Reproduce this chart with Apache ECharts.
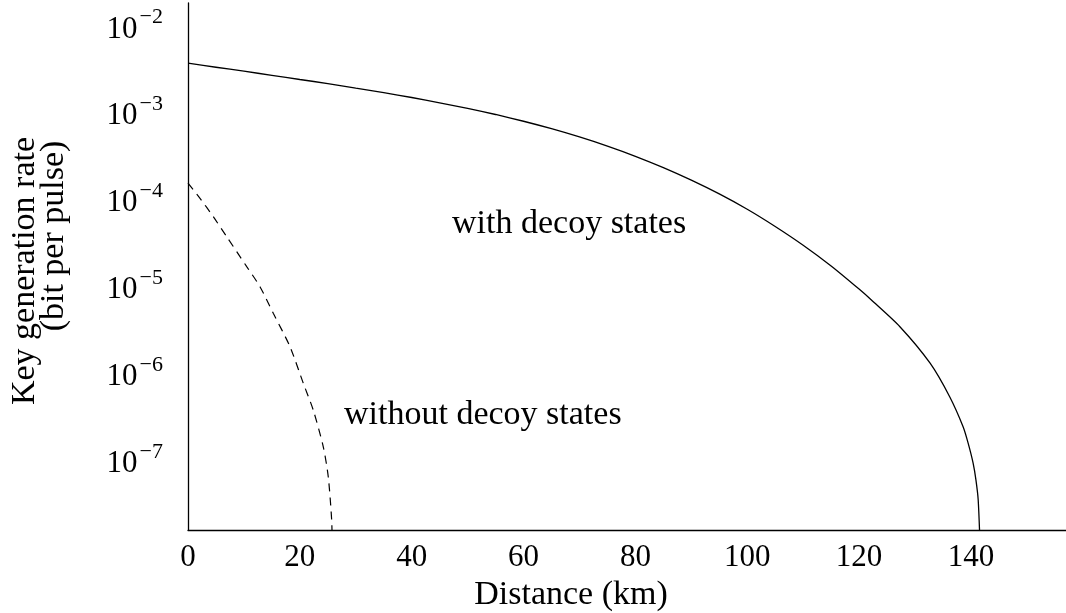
<!DOCTYPE html>
<html>
<head>
<meta charset="utf-8">
<script src="https://cdn.jsdelivr.net/npm/echarts@6/dist/echarts.min.js"></script>
<style>
  html, body { margin: 0; padding: 0; background: #fff; }
  #chart { width: 1066px; height: 613px; }
</style>
</head>
<body>
<div id="chart"></div>
<script>
// ---- data ----
const distWithDecoy = [0, 5, 10, 15, 20, 25, 30, 35, 40, 45, 50, 55, 60, 65, 70, 75, 80, 85, 90, 95, 100, 105, 110, 115, 120, 122.2, 127.3, 132.7, 136.2, 138.6, 139.5, 140.4, 140.9, 141.3, 141.65];
const rateWithDecoy = [3.77e-3, 3.39e-3, 3.05e-3, 2.74e-3, 2.45e-3, 2.20e-3, 1.95e-3, 1.73e-3, 1.52e-3, 1.32e-3, 1.14e-3, 9.69e-4, 8.10e-4, 6.65e-4, 5.34e-4, 4.19e-4, 3.20e-4, 2.37e-4, 1.70e-4, 1.18e-4, 7.86e-5, 4.98e-5, 3.03e-5, 1.75e-5, 9.48e-6, 7.10e-6, 3.50e-6, 1.33e-6, 5.47e-7, 2.47e-7, 1.60e-7, 9.36e-8, 6.0e-8, 3.54e-8, 1.0e-8];
const distWithoutDecoy = [0, 2.15, 4.52, 6.92, 10.5, 12.87, 15.25, 18.24, 20.62, 22.4, 24.19, 25.08, 25.69, 25.8];
const rateWithoutDecoy = [1.57e-4, 1.05e-4, 6.46e-5, 3.80e-5, 1.72e-5, 1.01e-5, 4.99e-6, 2.06e-6, 7.80e-7, 3.84e-7, 1.45e-7, 6.56e-8, 2.08e-8, 1.0e-8];
const xTickValues = [0, 20, 40, 60, 80, 100, 120, 140];
const yTickExponents = [-7, -6, -5, -4, -3, -2];
const labelWith = 'with decoy states';
const labelWithout = 'without decoy states';
const xTitle = 'Distance (km)';
const yTitle1 = 'Key generation rate';
const yTitle2 = '(bit per pulse)';

const FONT = '"Liberation Serif", "Times New Roman", serif';

function pairs(xs, ys) { return xs.map((x, i) => [x, ys[i]]); }

const chart = echarts.init(document.getElementById('chart'), null, { renderer: 'canvas' });

chart.setOption({
  animation: false,
  backgroundColor: '#fff',
  grid: { left: 188, right: 0, top: 3, bottom: 83, containLabel: false, outerBoundsMode: 'none' },
  xAxis: {
    type: 'value',
    min: 0,
    max: 157,
    interval: 20,
    axisLine: { show: true, lineStyle: { color: '#000', width: 1.3 } },
    axisTick: { show: false },
    splitLine: { show: false },
    axisLabel: {
      color: '#000', fontFamily: FONT, fontSize: 31, margin: 12,
      showMaxLabel: false,
      formatter: v => (xTickValues.indexOf(v) >= 0 ? String(v) : '')
    }
  },
  yAxis: {
    type: 'log',
    logBase: 10,
    min: 1.6e-8,
    max: 1.86e-2,
    axisLine: { show: true, lineStyle: { color: '#000', width: 1.3 } },
    axisTick: { show: false },
    splitLine: { show: false },
    axisLabel: {
      color: '#000', fontFamily: FONT, margin: 25,
      showMinLabel: false, showMaxLabel: false,
      formatter: v => {
        const e = Math.log10(v);
        const r = Math.round(e);
        if (Math.abs(e - r) > 1e-6 || yTickExponents.indexOf(r) < 0) return '';
        return '{b|10}{s|\u2212' + (-r) + '}';
      },
      rich: {
        b: { fontFamily: FONT, fontSize: 31, color: '#000', lineHeight: 40, padding: [6, 0, 0, 0] },
        s: { fontFamily: FONT, fontSize: 22, color: '#000', verticalAlign: 'top', lineHeight: 34, padding: [0, 0, 0, 2] }
      }
    }
  },
  series: [
    {
      name: labelWith,
      type: 'line',
      data: pairs(distWithDecoy, rateWithDecoy),
      showSymbol: false,
      smooth: 0.25,
      clip: true,
      lineStyle: { color: '#000', width: 1.3, type: 'solid' }
    },
    {
      name: labelWithout,
      type: 'line',
      data: pairs(distWithoutDecoy, rateWithoutDecoy),
      showSymbol: false,
      smooth: 0.25,
      clip: true,
      lineStyle: { color: '#000', width: 1.2, type: [8, 6] }
    }
  ],
  graphic: [
    { type: 'text', left: 452, top: 207, style: { text: labelWith, font: '34px ' + FONT, fill: '#000' } },
    { type: 'text', left: 344, top: 398, style: { text: labelWithout, font: '34px ' + FONT, fill: '#000' } },
    { type: 'text', x: 571, y: 595, style: { text: xTitle, font: '34px ' + FONT, fill: '#000', align: 'center', verticalAlign: 'middle' } },
    { type: 'text', x: 25, y: 271, rotation: Math.PI / 2, style: { text: yTitle1, font: '34px ' + FONT, fill: '#000', align: 'center', verticalAlign: 'middle' } },
    { type: 'text', x: 54, y: 236, rotation: Math.PI / 2, style: { text: yTitle2, font: '34px ' + FONT, fill: '#000', align: 'center', verticalAlign: 'middle' } }
  ]
});
</script>
</body>
</html>
